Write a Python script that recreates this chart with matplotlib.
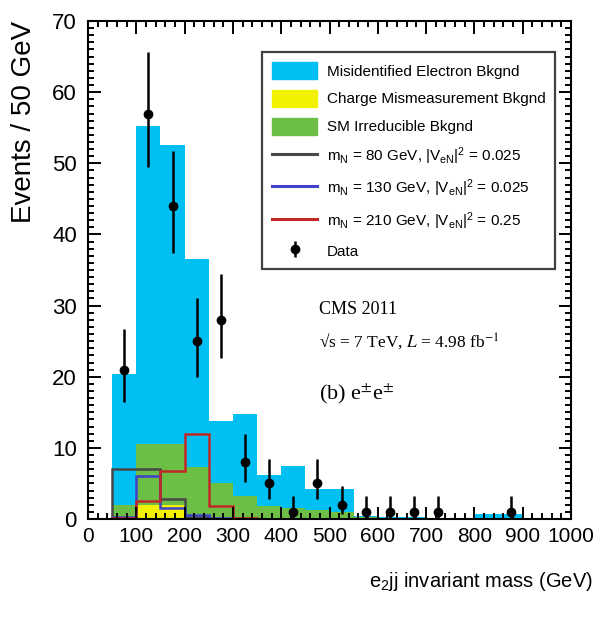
import numpy as np
import matplotlib
matplotlib.use("Agg")
import matplotlib.pyplot as plt
from matplotlib import font_manager
from matplotlib.patches import Patch
from matplotlib.lines import Line2D
from matplotlib.ticker import MultipleLocator

# e2jj invariant mass, same-sign ee channel, 50 GeV bins
edges = np.arange(0, 1001, 50)

# stacked backgrounds (per bin, 0-1000 GeV)
bkg_charge = [0, 0.1, 2.0, 2.0, 0.3, 0.2, 0.1, 0.1, 0.05, 0,
              0, 0, 0, 0, 0, 0, 0, 0, 0, 0]
bkg_sm = [0, 1.9, 8.5, 8.5, 7.0, 4.8, 3.2, 1.8, 1.45, 1.2,
          1.0, 0.3, 0.2, 0.2, 0.1, 0.1, 0.1, 0.1, 0.05, 0.05]
bkg_misid = [0, 18.4, 44.7, 42.1, 29.2, 8.8, 11.5, 4.3, 5.9, 3.0,
             3.2, 0.1, 0.1, 0.1, 0.1, 0.1, 0.6, 0.6, 0.1, 0.1]

# signal hypotheses (not stacked)
sig_80 = [0, 7.0, 7.0, 2.8, 0.3, 0, 0, 0, 0, 0,
          0, 0, 0, 0, 0, 0, 0, 0, 0, 0]
sig_130 = [0, 0.3, 6.0, 1.5, 0.6, 0.2, 0, 0, 0, 0,
           0, 0, 0, 0, 0, 0, 0, 0, 0, 0]
sig_210 = [0, 0.1, 2.5, 6.7, 12.0, 1.8, 0.2, 0, 0, 0,
           0, 0, 0, 0, 0, 0, 0, 0, 0, 0]

# data
data_x = [75, 125, 175, 225, 275, 325, 375, 425, 475, 525, 575, 625, 675, 725, 875]
data_y = [21, 57, 44, 25, 28, 8, 5, 1, 5, 2, 1, 1, 1, 1, 1]
err_lo = [4.5, 7.5, 6.6, 5.0, 5.3, 2.8, 2.2, 0.8, 2.2, 1.3, 0.8, 0.8, 0.8, 0.8, 0.8]
err_hi = [5.7, 8.6, 7.7, 6.1, 6.4, 4.0, 3.4, 2.3, 3.4, 2.6, 2.3, 2.3, 2.3, 2.3, 2.3]

# narrow sans if available
names = {f.name for f in font_manager.fontManager.ttflist}
sans = "Liberation Sans Narrow" if "Liberation Sans Narrow" in names else "Liberation Sans"
plt.rcParams["font.family"] = [sans, "DejaVu Sans"]
plt.rcParams["mathtext.fontset"] = "custom"
plt.rcParams["mathtext.rm"] = sans
plt.rcParams["mathtext.it"] = sans + ":italic"

c_misid = "#00bff3"
c_charge = "#f2f200"
c_sm = "#6cbf44"
c_80 = "#484848"
c_130 = "#4040c8"
c_210 = "#c02828"

fig = plt.figure(figsize=(6.05, 6.17), dpi=100)
ax = fig.add_axes([0.1455, 0.1588, 0.7983, 0.8071])

b1 = np.array(bkg_charge)
b2 = b1 + np.array(bkg_sm)
b3 = b2 + np.array(bkg_misid)
ax.stairs(b1, edges, baseline=0, fill=True, color=c_charge, lw=0)
ax.stairs(b2, edges, baseline=b1, fill=True, color=c_sm, lw=0)
ax.stairs(b3, edges, baseline=b2, fill=True, color=c_misid, lw=0)

ax.stairs(sig_80, edges, color=c_80, lw=1.8)
ax.stairs(sig_130, edges, color=c_130, lw=1.8)
ax.stairs(sig_210, edges, color=c_210, lw=1.8)

eb = ax.errorbar(data_x, data_y, yerr=[err_lo, err_hi], fmt="o", color="black",
                 ms=6, elinewidth=1.8, capsize=0, zorder=5)

ax.set_xlim(0, 1000)
ax.set_ylim(0, 70)
ax.xaxis.set_major_locator(MultipleLocator(100))
ax.xaxis.set_minor_locator(MultipleLocator(20))
ax.yaxis.set_major_locator(MultipleLocator(10))
ax.yaxis.set_minor_locator(MultipleLocator(1))
ax.tick_params(which="both", direction="in", top=True, right=True, width=1.4)
ax.tick_params(which="major", length=9)
ax.tick_params(which="minor", length=4.5)
ax.tick_params(axis="x", labelsize=15, pad=6)
ax.tick_params(axis="y", labelsize=16, pad=8)
for s in ax.spines.values():
    s.set_linewidth(1.5)

ax.set_ylabel("Events / 50 GeV", loc="top", fontsize=20, family="Liberation Sans")
ax.yaxis.set_label_coords(-0.105, 1.0)
ax.set_xlabel(r"e$_2$jj invariant mass (GeV)", loc="right", fontsize=14.5)
ax.xaxis.set_label_coords(1.046, -0.103)

handles = [
    Patch(color=c_misid),
    Patch(color=c_charge),
    Patch(color=c_sm),
    Line2D([], [], color=c_80, lw=2.2),
    Line2D([], [], color=c_130, lw=2.2),
    Line2D([], [], color=c_210, lw=2.2),
    eb,
]
labels = [
    "Misidentified Electron Bkgnd",
    "Charge Mismeasurement Bkgnd",
    "SM Irreducible Bkgnd",
    r"m$_\mathrm{N}$ = 80 GeV, |V$_\mathrm{eN}$|$^2$ = 0.025",
    r"m$_\mathrm{N}$ = 130 GeV, |V$_\mathrm{eN}$|$^2$ = 0.025",
    r"m$_\mathrm{N}$ = 210 GeV, |V$_\mathrm{eN}$|$^2$ = 0.25",
    "Data",
]
leg = ax.legend(handles, labels, loc="upper left", bbox_to_anchor=(0.3596, 0.938),
                borderaxespad=0, fontsize=11, frameon=True, fancybox=False,
                edgecolor="#404040", framealpha=1, handlelength=3.0,
                handleheight=1.35, handletextpad=0.6, labelspacing=0.7,
                borderpad=0.65)
leg.get_frame().set_linewidth(1.6)

ax.text(479, 29.4, "CMS 2011", family="Liberation Serif", fontsize=13,
        va="center", math_fontfamily="stix")
ax.text(479, 25.0, "\u221as = 7 TeV, $L$ = 4.98 fb$^{-1}$", family="Liberation Serif",
        fontsize=12.5, va="center", math_fontfamily="stix")
ax.text(479, 17.5, r"(b) e$^{\pm}$e$^{\pm}$", family="Liberation Serif", fontsize=16,
        va="center", math_fontfamily="stix")

fig.savefig("out.png", dpi=100)
